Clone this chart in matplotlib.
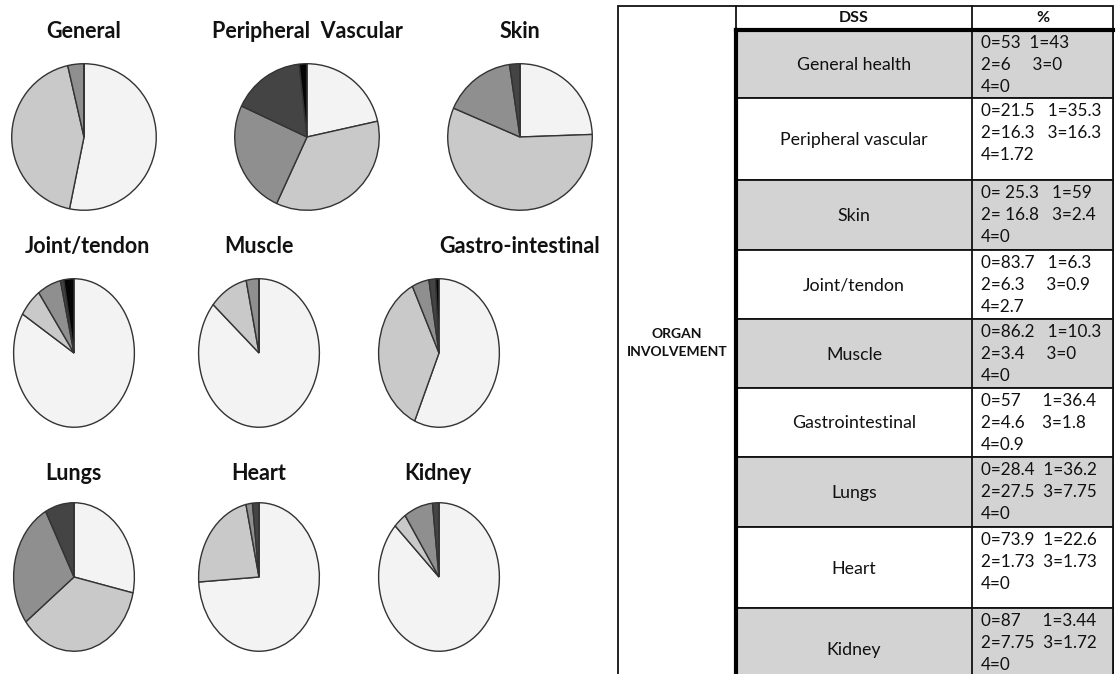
import matplotlib
matplotlib.use("Agg")
import matplotlib.pyplot as plt
from matplotlib.patches import Rectangle

# ---------------- data ----------------
pie_titles = ["General", "Peripheral  Vascular", "Skin",
              "Joint/tendon", "Muscle", "Gastro-intestinal",
              "Lungs", "Heart", "Kidney"]
# DSS score shares 0..4
general = [53, 43, 3.6, 0, 0]
peripheral = [21.5, 35.3, 25, 16.3, 1.72]
skin = [25.3, 59, 16.8, 2.4, 0]
joint = [83.7, 6.3, 6.3, 0.9, 2.7]
muscle = [86.2, 10.3, 3.4, 0, 0]
gastro = [57, 36.4, 4.6, 1.8, 0.9]
lungs = [28.4, 36.2, 27.5, 7.75, 0]
heart = [73.9, 22.6, 1.73, 1.73, 0]
kidney = [87, 3.44, 7.75, 1.72, 0]
pie_values = [general, peripheral, skin, joint, muscle, gastro, lungs, heart, kidney]

table_header = ["DSS", "%"]
row_group = "ORGAN\nINVOLVEMENT"
row_names = ["General health", "Peripheral vascular", "Skin", "Joint/tendon",
             "Muscle", "Gastrointestinal", "Lungs", "Heart", "Kidney"]
row_pct = [
    ["0=53  1=43", "2=6     3=0", "4=0"],
    ["0=21.5   1=35.3", "2=16.3   3=16.3", "4=1.72"],
    ["0= 25.3   1=59", "2= 16.8   3=2.4", "4=0"],
    ["0=83.7   1=6.3", "2=6.3     3=0.9", "4=2.7"],
    ["0=86.2   1=10.3", "2=3.4     3=0", "4=0"],
    ["0=57     1=36.4", "2=4.6    3=1.8", "4=0.9"],
    ["0=28.4  1=36.2", "2=27.5  3=7.75", "4=0"],
    ["0=73.9  1=22.6", "2=1.73  3=1.73", "4=0"],
    ["0=87     1=3.44", "2=7.75  3=1.72", "4=0"],
]

# ---------------- style ----------------
W, H = 1118, 674
shade = ["#f3f3f3", "#c9c9c9", "#8f8f8f", "#444444", "#050505"]
FONT = ["Lato", "DejaVu Sans"]
plt.rcParams["font.family"] = FONT

fig = plt.figure(figsize=(W / 100, H / 100), dpi=100)
fig.patch.set_facecolor("white")

# pie bounding boxes in pixels: (cx, cy, rx, ry)
pie_boxes = [(84, 137, 73, 74), (307, 137, 73, 74), (520, 137, 73, 74),
             (74, 353, 61, 75), (259, 353, 61, 75), (439, 353, 61, 75),
             (74, 577, 61, 75), (259, 577, 61, 75), (439, 577, 61, 75)]
title_pos = [(84, 31), (307, 31), (520, 31),
             (87, 247), (259, 247), (520, 247),
             (73, 474), (259, 474), (438, 474)]

for vals, (cx, cy, rx, ry), title, (tx, ty) in zip(pie_values, pie_boxes, pie_titles, title_pos):
    ax = fig.add_axes([(cx - rx) / W, 1 - (cy + ry) / H, 2 * rx / W, 2 * ry / H])
    cols = [shade[i] for i in range(len(vals))]
    ax.pie(vals, colors=cols, startangle=90, counterclock=False, radius=1,
           wedgeprops=dict(edgecolor="#333333", linewidth=1.0))
    ax.set_aspect("auto")
    ax.set_xlim(-1.01, 1.01)
    ax.set_ylim(-1.01, 1.01)
    ax.axis("off")
    fig.text(tx / W, 1 - ty / H, title, ha="center", va="center",
             fontsize=15.5, fontweight="bold", color="#111111")

# ---------------- table ----------------
tax = fig.add_axes([0, 0, 1, 1])
tax.set_xlim(0, W)
tax.set_ylim(H, 0)
tax.axis("off")

x0, x1, x2, x3 = 618, 736, 972, 1113
y_top, y_head = 6, 30
row_edges = [30, 98, 180, 250, 319, 388, 457, 527, 608, 690]

tax.add_patch(Rectangle((x0, y_top), x3 - x0, H + 20 - y_top, facecolor="white",
                        edgecolor="#111111", linewidth=1.3, zorder=1))
for i, name in enumerate(row_names):
    ya, yb = row_edges[i], row_edges[i + 1]
    fc = "#d3d3d3" if i % 2 == 0 else "white"
    tax.add_patch(Rectangle((x1, ya), x3 - x1, yb - ya, facecolor=fc,
                            edgecolor="#111111", linewidth=1.3, zorder=2))
    tax.plot([x2, x2], [ya, yb], color="#111111", lw=1.3, zorder=3)
    tax.text((x1 + x2) / 2, (ya + yb) / 2 + 1, name, ha="center", va="center",
             fontsize=12.8, color="#111111", zorder=4)
    for k, line in enumerate(row_pct[i]):
        tax.text(x2 + 9, ya + 13 + 22 * k, line, ha="left", va="center",
                 fontsize=12.3, color="#111111", zorder=4)

tax.plot([x1, x1], [y_top, y_head], color="#111111", lw=1.3, zorder=3)
tax.plot([x2, x2], [y_top, y_head], color="#111111", lw=1.3, zorder=3)
tax.plot([x1, x3], [y_head, y_head], color="#000000", lw=3, zorder=5)
tax.plot([x1, x1], [y_head, H + 5], color="#000000", lw=3, zorder=5)
tax.text((x1 + x2) / 2, (y_top + y_head) / 2, table_header[0], ha="center",
         va="center", fontsize=11.5, fontweight="bold", color="#111111")
tax.text((x2 + x3) / 2, (y_top + y_head) / 2, table_header[1], ha="center",
         va="center", fontsize=11.5, fontweight="bold", color="#111111")
tax.text((x0 + x1) / 2, 343, row_group, ha="center", va="center",
         fontsize=10, fontweight="bold", color="#111111", linespacing=1.5)

fig.savefig("out.png", dpi=100, facecolor="white")
